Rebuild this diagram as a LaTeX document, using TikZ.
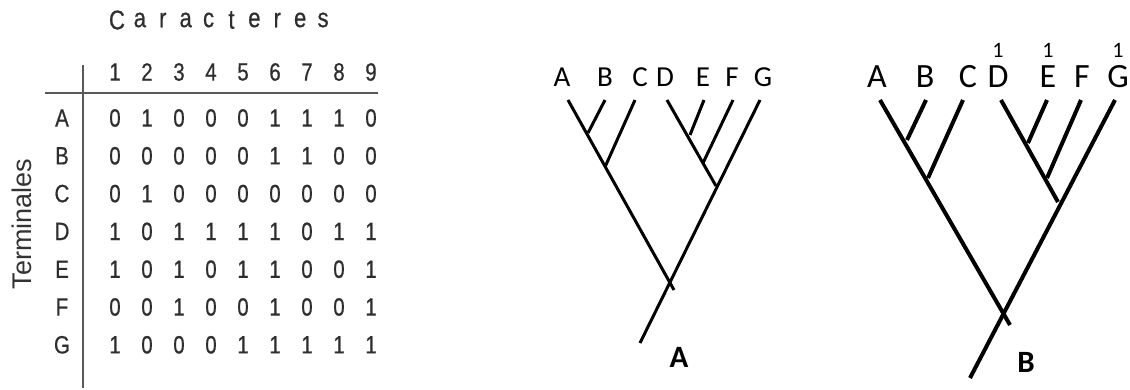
\documentclass[tikz,border=0pt]{standalone}
\usepackage{fontspec}
\setmainfont{Liberation Sans}
\newfontfamily\tabfont[FakeStretch=0.82,FakeBold=0.6]{Liberation Sans}
\newfontfamily\treefont{Carlito}
\usetikzlibrary{positioning}

\begin{document}
\begin{tikzpicture}[x=1pt, y=-1pt, every node/.style={inner sep=0pt},
  tabtxt/.style={font=\tabfont\fontsize{25}{25}\selectfont, text=black!82},
  rule/.style={gray!70!black, line width=1.8pt},
  leaf/.style={font=\treefont\fontsize{#1}{#1}\selectfont},
  branch/.style={line width=#1}]
  \useasboundingbox (0,0) rectangle (1130,389);

  % CHARACTER MATRIX
  \foreach \ch [count=\i from 0] in {C,a,r,a,c,t,e,r,e,s}
    \node[tabtxt, font=\tabfont\fontsize{27}{27}\selectfont] (car-\i) at (117+\i*22.9, 20) {\ch};
  \node[font=\fontsize{27}{27}\selectfont, text=black!80, rotate=90] (term) at (22, 224) {Terminales};
  \foreach \c in {1,...,9}
    \node[tabtxt] (col-\c) at (115+\c*32-32, 72) {\c};
  \coordinate (hl) at (45,93);  \coordinate (hr) at (378,93);
  \coordinate (vt) at (83,65);  \coordinate (vb) at (83,388);
  \draw[rule] (hl) -- (hr);
  \draw[rule] (vt) -- (vb);
  \foreach \r/\vals [count=\k from 0] in {A/{0,1,0,0,0,1,1,1,0}, B/{0,0,0,0,0,1,1,0,0},
      C/{0,1,0,0,0,0,0,0,0}, D/{1,0,1,1,1,1,0,1,1}, E/{1,0,1,0,1,1,0,0,1},
      F/{0,0,1,0,0,1,0,0,1}, G/{1,0,0,0,1,1,1,1,1}} {
    \node[tabtxt] (row-\r) at (62, 118+\k*37.8) {\r};
    \foreach \v [count=\c] in \vals
      \node[tabtxt] (m-\r-\c) at (115+\c*32-32, 118+\k*37.8) {\v};
  }

  % TREE A
  \foreach \t/\x/\tx in {A/562/568, B/605/605, C/640/635, D/665/667, E/703/704, F/732/733, G/763/760} {
    \node[leaf=29] (a\t) at (\x, 77) {\t};
    \coordinate (ta\t) at (\tx, 100);
  }
  \coordinate (aAB) at (588,133);  \coordinate (aABC) at (605,167);
  \coordinate (aDE) at (690,135);  \coordinate (aDEF) at (703,163);
  \coordinate (aDend) at (716,186); \coordinate (aAend) at (674,290);
  \coordinate (aroot) at (640,343);
  \draw[branch=3pt] (taA) -- (aAend);
  \draw[branch=3pt] (taB) -- (aAB);
  \draw[branch=3pt] (taC) -- (aABC);
  \draw[branch=3pt] (taD) -- (aDend);
  \draw[branch=3pt] (taE) -- (aDE);
  \draw[branch=3pt] (taF) -- (aDEF);
  \draw[branch=3pt] (taG) -- (aroot);
  \node[font=\treefont\bfseries\fontsize{31}{31}\selectfont] (labA) at (679, 357) {A};

  % TREE B
  \foreach \t/\x/\tx in {A/877/880, B/925/926, C/968/963, D/998/1001, E/1048/1047, F/1082/1081, G/1118/1115} {
    \node[leaf=34] (b\t) at (\x, 77) {\t};
    \coordinate (tb\t) at (\tx, 100);
  }
  \foreach \t in {D,E,G}
    \node[leaf=22, above=8pt of b\t] (one\t) {1};
  \coordinate (bAB) at (907,140);  \coordinate (bABC) at (928,178);
  \coordinate (bDE) at (1028,143); \coordinate (bDEF) at (1047,178);
  \coordinate (bDend) at (1058,202); \coordinate (bAend) at (1010,325);
  \coordinate (broot) at (970,378);
  \draw[branch=4pt] (tbA) -- (bAend);
  \draw[branch=4pt] (tbB) -- (bAB);
  \draw[branch=4pt] (tbC) -- (bABC);
  \draw[branch=4pt] (tbD) -- (bDend);
  \draw[branch=4pt] (tbE) -- (bDE);
  \draw[branch=4pt] (tbF) -- (bDEF);
  \draw[branch=4pt] (tbG) -- (broot);
  \node[font=\treefont\bfseries\fontsize{31}{31}\selectfont] (labB) at (1026, 362) {B};
\end{tikzpicture}
\end{document}
